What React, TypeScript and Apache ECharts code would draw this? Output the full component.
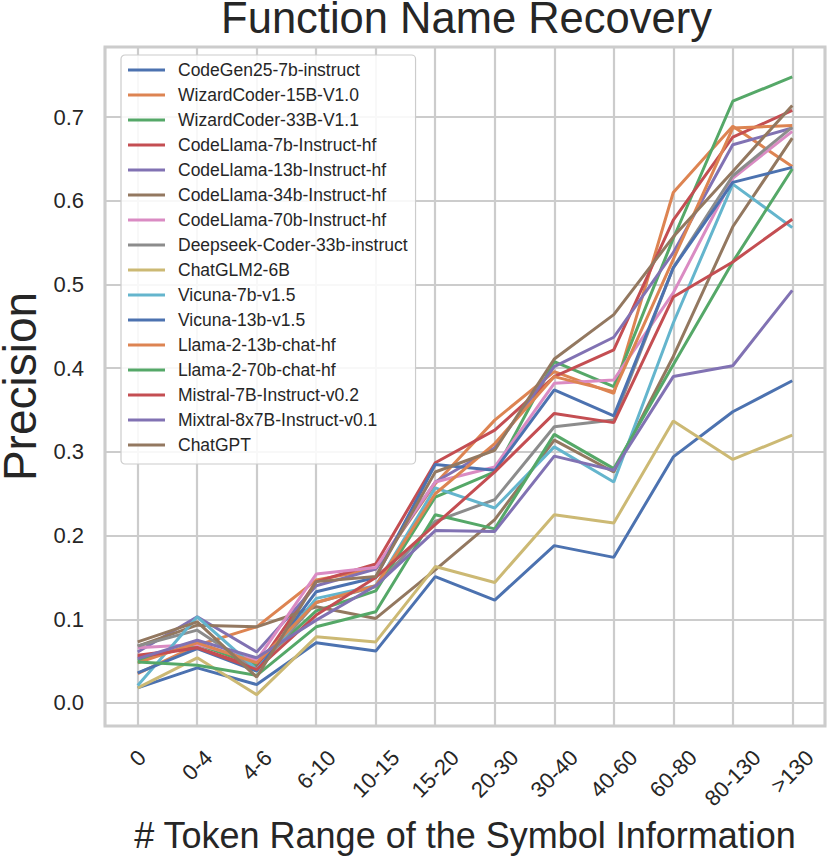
import React, { useEffect, useRef } from 'react';
import * as echarts from 'echarts';

const categories = ['0', '0-4', '4-6', '6-10', '10-15', '15-20', '20-30', '30-40', '40-60', '60-80', '80-130', '>130'];

const seriesNames = [
  'CodeGen25-7b-instruct',
  'WizardCoder-15B-V1.0',
  'WizardCoder-33B-V1.1',
  'CodeLlama-7b-Instruct-hf',
  'CodeLlama-13b-Instruct-hf',
  'CodeLlama-34b-Instruct-hf',
  'CodeLlama-70b-Instruct-hf',
  'Deepseek-Coder-33b-instruct',
  'ChatGLM2-6B',
  'Vicuna-7b-v1.5',
  'Vicuna-13b-v1.5',
  'Llama-2-13b-chat-hf',
  'Llama-2-70b-chat-hf',
  'Mistral-7B-Instruct-v0.2',
  'Mixtral-8x7B-Instruct-v0.1',
  'ChatGPT',
];

const palette = ['#4C72B0', '#DD8452', '#55A868', '#C44E52', '#8172B3', '#937860', '#DA8BC3', '#8C8C8C', '#CCB974', '#64B5CD'];

const codeGen25 = [0.018, 0.042, 0.022, 0.072, 0.062, 0.151, 0.123, 0.188, 0.174, 0.294, 0.348, 0.385];
const wizardCoder15 = [0.035, 0.069, 0.091, 0.147, 0.160, 0.262, 0.338, 0.396, 0.370, 0.610, 0.689, 0.641];
const wizardCoder33 = [0.051, 0.070, 0.045, 0.110, 0.134, 0.246, 0.276, 0.408, 0.378, 0.555, 0.719, 0.748];
const codeLlama7 = [0.057, 0.066, 0.042, 0.145, 0.166, 0.287, 0.326, 0.390, 0.422, 0.577, 0.676, 0.708];
const codeLlama13 = [0.061, 0.103, 0.061, 0.140, 0.160, 0.264, 0.305, 0.402, 0.437, 0.538, 0.667, 0.687];
const codeLlama34 = [0.068, 0.093, 0.091, 0.115, 0.101, 0.159, 0.219, 0.314, 0.276, 0.414, 0.569, 0.675];
const codeLlama70 = [0.066, 0.070, 0.051, 0.154, 0.162, 0.264, 0.282, 0.382, 0.386, 0.490, 0.627, 0.683];
const deepseek33 = [0.068, 0.087, 0.040, 0.120, 0.139, 0.217, 0.243, 0.330, 0.338, 0.520, 0.630, 0.688];
const chatGLM2 = [0.018, 0.054, 0.010, 0.079, 0.073, 0.163, 0.144, 0.225, 0.215, 0.337, 0.291, 0.320];
const vicuna7 = [0.021, 0.103, 0.040, 0.125, 0.140, 0.257, 0.233, 0.306, 0.264, 0.454, 0.620, 0.568];
const vicuna13 = [0.036, 0.065, 0.038, 0.133, 0.150, 0.285, 0.278, 0.374, 0.343, 0.520, 0.622, 0.640];
const llama2_13 = [0.048, 0.072, 0.048, 0.120, 0.140, 0.250, 0.310, 0.390, 0.372, 0.530, 0.687, 0.690];
const llama2_70 = [0.049, 0.045, 0.033, 0.091, 0.109, 0.225, 0.208, 0.321, 0.280, 0.404, 0.527, 0.638];
const mistral7 = [0.055, 0.066, 0.040, 0.105, 0.150, 0.213, 0.276, 0.346, 0.335, 0.485, 0.527, 0.578];
const mixtral = [0.053, 0.075, 0.054, 0.099, 0.140, 0.206, 0.205, 0.295, 0.278, 0.390, 0.403, 0.493];
const chatGPT = [0.073, 0.097, 0.031, 0.145, 0.151, 0.276, 0.302, 0.411, 0.464, 0.557, 0.635, 0.714];

const seriesValues = [
  codeGen25, wizardCoder15, wizardCoder33, codeLlama7, codeLlama13, codeLlama34, codeLlama70, deepseek33,
  chatGLM2, vicuna7, vicuna13, llama2_13, llama2_70, mistral7, mixtral, chatGPT,
];

const FONT = '"Liberation Sans", Arial, Helvetica, sans-serif';
const TEXT = '#262626';
const GRID = '#cccccc';

export default function App() {
  const ref = useRef<HTMLDivElement>(null);

  useEffect(() => {
    if (!ref.current) return;
    const chart = echarts.init(ref.current, null, { renderer: 'svg' });

    const canvas = document.createElement('canvas');
    const ctx = canvas.getContext('2d')!;
    ctx.font = `22px ${FONT}`;
    const rich: Record<string, any> = {};
    categories.forEach((c, i) => {
      const w = ctx.measureText(c).width;
      const a = Math.round(w * 0.5);
      rich['c' + i] = { fontSize: 22, fontFamily: FONT, color: TEXT, padding: [a, a, 0, 0] };
    });
    const titleSize = 43.5;
    ctx.font = `${titleSize}px ${FONT}`;
    const titleText = 'Function Name Recovery';
    const titleW = ctx.measureText(titleText).width;
    const plotLeft = 105;
    const plotRight = 825;
    const titleLeft = (plotLeft + plotRight) / 2 + 1.5 - titleW / 2;

    const option: any = {
      animation: false,
      backgroundColor: '#ffffff',
      textStyle: { fontFamily: FONT, color: TEXT },
      title: {
        text: titleText,
        left: titleLeft,
        top: 0,
        padding: 0,
        textStyle: { fontSize: titleSize, lineHeight: 36, fontWeight: 'normal', color: TEXT, fontFamily: FONT },
      },
      grid: {
        left: plotLeft,
        right: 831 - plotRight,
        top: 47,
        bottom: 130,
        show: true,
        borderColor: GRID,
        borderWidth: 3,
        backgroundColor: 'transparent',
        containLabel: false,
        outerBoundsMode: 'none',
      },
      legend: {
        orient: 'vertical',
        left: 121,
        top: 55,
        icon: 'rect',
        itemWidth: 37,
        itemHeight: 3,
        itemGap: 5,
        padding: [5, 8, 9, 7],
        backgroundColor: 'rgba(255,255,255,0.85)',
        borderColor: GRID,
        borderWidth: 1.2,
        borderRadius: 4,
        textStyle: { fontSize: 17.5, fontFamily: FONT, color: TEXT, lineHeight: 20, padding: [0, 0, 0, 8] },
        data: seriesNames,
      },
      xAxis: {
        type: 'value',
        min: -0.55,
        max: 11.55,
        splitNumber: 12,
        minInterval: 1,
        maxInterval: 1,
        axisLine: { show: false },
        axisTick: { show: false },
        splitLine: { show: true, lineStyle: { color: GRID, width: 2.2 } },
        axisLabel: {
          showMinLabel: false,
          showMaxLabel: false,
          rotate: 45,
          align: 'center',
          verticalAlign: 'middle',
          margin: 28,
          fontSize: 22,
          color: TEXT,
          fontFamily: FONT,
          rich,
          formatter: (v: number) => {
            const i = Math.round(v);
            if (Math.abs(v - i) > 1e-6 || i < 0 || i >= categories.length) return '';
            return `{c${i}|${categories[i]}}`;
          },
        },
        name: '# Token Range of the Symbol Information',
        nameLocation: 'middle',
        nameGap: 84,
        nameTextStyle: { fontSize: 36, color: TEXT, fontFamily: FONT },
      },
      yAxis: {
        type: 'value',
        min: -0.0275,
        max: 0.7838,
        splitNumber: 8,
        minInterval: 0.1,
        maxInterval: 0.1,
        axisLine: { show: false },
        axisTick: { show: false },
        splitLine: { show: true, lineStyle: { color: GRID, width: 2.2 } },
        axisLabel: {
          showMinLabel: false,
          showMaxLabel: false,
          margin: 21,
          fontSize: 22,
          color: TEXT,
          fontFamily: FONT,
          formatter: (v: number) => v.toFixed(1),
        },
        name: 'Precision',
        nameLocation: 'middle',
        nameGap: 58,
        nameTextStyle: { fontSize: 46, color: TEXT, fontFamily: FONT },
      },
      series: seriesNames.map((name, s) => ({
        name,
        type: 'line',
        data: seriesValues[s].map((v, i) => [i, v]),
        showSymbol: false,
        symbol: 'none',
        color: palette[s % palette.length],
        lineStyle: { width: 3, color: palette[s % palette.length] },
        emphasis: { disabled: true },
      })),
    };

    chart.setOption(option);
    return () => chart.dispose();
  }, []);

  return <div ref={ref} style={{ position: 'fixed', left: 0, top: 0, width: 831, height: 856 }} />;
}
